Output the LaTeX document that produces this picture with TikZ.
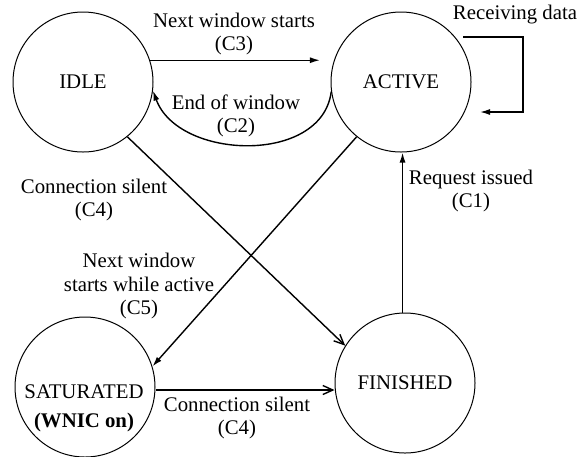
\documentclass[tikz,border=0pt]{standalone}
\usepackage{fontspec}
\setmainfont{Liberation Serif}
\usetikzlibrary{arrows.meta}

\tikzset{
	state/.style={draw, circle, line width=0.5pt, minimum size=70pt, inner sep=0pt},
	trans/.style={line width=0.7pt, -{Latex[length=5pt,width=3pt]}},
	silent/.style={line width=0.7pt, -{Straight Barb[length=5pt,width=4.5pt]}},
	every node/.style={font=\fontsize{10.4}{11.6}\selectfont}}

\begin{document}
\begin{tikzpicture}[x=0.5pt,y=0.5pt,yscale=-1,xscale=1]
	\useasboundingbox (0,0) rectangle (587,456);

	%States
	\node [state] (idle) at (83,82) {IDLE};
	\node [state] (active) at (401,82) {ACTIVE};
	\node [state] (finished) at (405,383) {FINISHED};
	\node [state] (sat) at (85,387) {};
	\node [align=center] (satText) at (84,408) {SATURATED\\[3pt]\textbf{(WNIC on)}};

	%Self loop corners
	\coordinate (loopA) at (463,37);
	\coordinate (loopB) at (480,112);

	%Transitions
	\draw [trans] (idle.18) -- ([xshift=-7pt]active.162);
	\draw [trans] (active.188) .. controls (322,165) and (178,160) .. (idle.-7);
	\draw [trans] (loopA) -- ++(60,0) |- (loopB);
	\draw [trans] (finished.92) -- (finished.92 |- active.south);
	\draw [silent] (idle.-51) -- (finished.148);
	\draw [trans] (active.-129) -- (sat.17);
	\draw [silent] (sat.east |- 0,390) -- (finished.west |- 0,390);

	% Text Node
	\node [align=center] (lblC3) at (234,34) {Next window starts\\(C3)};
	% Text Node
	\node [align=center] (lblC2) at (236,116) {End of window\\(C2)};
	% Text Node
	\node (lblLoop) at (515,15) {Receiving data};
	% Text Node
	\node [align=center] (lblC1) at (471,191) {Request issued\\(C1)};
	% Text Node
	\node [align=center] (lblC4a) at (94,200) {Connection silent\\(C4)};
	% Text Node
	\node [align=center] (lblC5) at (139,286) {Next window\\starts while active\\(C5)};
	% Text Node
	\node [align=center] (lblC4b) at (237,418) {Connection silent\\(C4)};

\end{tikzpicture}
\end{document}
